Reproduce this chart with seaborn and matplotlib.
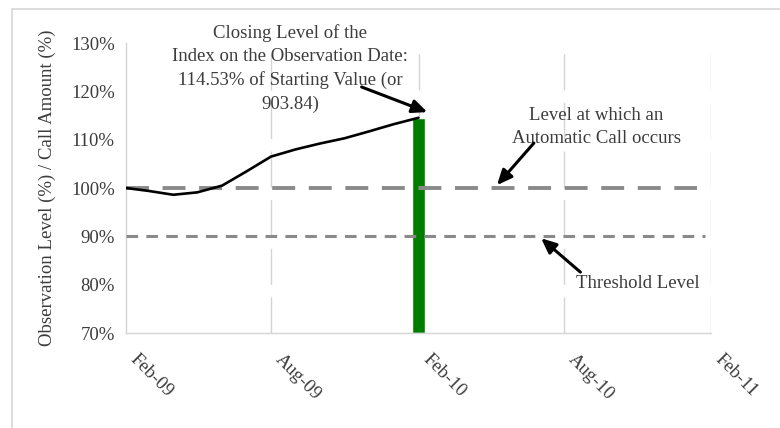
# Automatic call chart: index level vs call level and threshold
import pandas as pd
import matplotlib
matplotlib.use("Agg")
import matplotlib.pyplot as plt
import matplotlib.dates as mdates
from matplotlib.patches import Rectangle
from matplotlib.transforms import ScaledTranslation
import seaborn as sns

# ============ DATA ============
DATES = pd.date_range("2009-02-01", "2010-02-01", freq="MS")
INDEX_LEVEL = [100.0, 99.4, 98.6, 99.1, 100.5, 103.4, 106.5,
               108.0, 109.2, 110.3, 111.7, 113.2, 114.53]
OBS_DATE = pd.Timestamp("2010-02-01")
OBS_LEVEL = 114.53
CALL_LEVEL = 100
THRESHOLD_LEVEL = 90
TICK_DATES = pd.to_datetime(["2009-02-01", "2009-08-01", "2010-02-01",
                             "2010-08-01", "2011-02-01"])
TICK_LABELS = ["Feb-09", "Aug-09", "Feb-10", "Aug-10", "Feb-11"]
Y_TICKS = [70, 80, 90, 100, 110, 120, 130]
# ==============================

df = pd.DataFrame({"date": DATES, "level": INDEX_LEVEL})

sns.set_style("white")
plt.rcParams["font.family"] = ["Liberation Serif", "DejaVu Serif"]

TXT = "#3c3c3c"
GRID = "#d4d4d4"
FS = 13.5

fig = plt.figure(figsize=(7.8, 4.28), dpi=100)
ax = fig.add_axes([126 / 780, 1 - 333 / 428, 585 / 780, 290 / 428])

# vertical gridlines
for d in TICK_DATES[1:]:
    ax.axvline(d, color=GRID, lw=1.0, ls=(0, (26, 9)), zorder=0)

# observation bar
ax.bar(OBS_DATE, OBS_LEVEL - 70, bottom=70, width=16, color="#007d00", zorder=2)

# call level and threshold lines
ax.axhline(CALL_LEVEL, xmin=0, xmax=0.976, color="#8a8a8a", lw=2.8,
           ls=(0, (5.9, 3.5)), zorder=3)
ax.axhline(THRESHOLD_LEVEL, xmin=0, xmax=0.99, color="#8a8a8a", lw=2.2,
           ls=(0, (3.8, 2.7)), zorder=3)

# index line
sns.lineplot(data=df, x="date", y="level", ax=ax, color="black", lw=1.9,
             zorder=4)

ax.set_xlim(TICK_DATES[0], TICK_DATES[-1])
ax.set_ylim(70, 130)
ax.set_xticks(TICK_DATES)
ax.set_xticklabels(TICK_LABELS, rotation=-45, ha="left", va="top",
                   rotation_mode="anchor")
ax.set_yticks(Y_TICKS)
ax.set_yticklabels([f"{v}%" for v in Y_TICKS])
ax.set_xlabel("")
ax.set_ylabel("Observation Level (%) / Call Amount (%)", fontsize=FS, color=TXT)
ax.yaxis.set_label_coords(-0.12, 0.5)

for s in ["top", "right"]:
    ax.spines[s].set_visible(False)
for s in ["left", "bottom"]:
    ax.spines[s].set_color(GRID)
    ax.spines[s].set_linewidth(1.0)

ax.tick_params(axis="both", length=4, color=GRID, labelsize=FS, labelcolor=TXT)
ax.tick_params(axis="x", pad=9)
ax.tick_params(axis="y", pad=4)
for lab in ax.get_xticklabels():
    lab.set_transform(lab.get_transform() + ScaledTranslation(0.13, 0, fig.dpi_scale_trans))

# annotations
def dn(s):
    return mdates.date2num(pd.Timestamp(s))

arrow = dict(arrowstyle="-|>,head_length=0.9,head_width=0.4", color="black",
             lw=2.2, shrinkA=0, shrinkB=0)

ax.text(dn("2009-08-25"), 124.8,
        "Closing Level of the\nIndex on the Observation Date:\n"
        "114.53% of Starting Value (or\n903.84)",
        ha="center", va="center", fontsize=FS, color=TXT, linespacing=1.47,
        clip_on=False)
ax.annotate("", xy=(dn("2010-02-12"), 115.7), xytext=(dn("2009-11-22"), 120.9),
            arrowprops=arrow, annotation_clip=False)

ax.text(dn("2010-09-11"), 112.6, "Level at which an\nAutomatic Call occurs",
        ha="center", va="center", fontsize=FS, color=TXT, linespacing=1.47)
ax.annotate("", xy=(dn("2010-05-10"), 100.6), xytext=(dn("2010-06-25"), 109.3),
            arrowprops=arrow)

ax.text(dn("2010-08-17"), 80.3, "Threshold Level", ha="left", va="center",
        fontsize=FS, color=TXT)
ax.annotate("", xy=(dn("2010-07-04"), 89.6), xytext=(dn("2010-08-22"), 82.6),
            arrowprops=arrow)

# outer frame
fig.add_artist(Rectangle((12 / 780, -0.1), 2, 1 - 9 / 428 + 0.1,
                         transform=fig.transFigure, fill=False,
                         ec="#dadada", lw=1.3))

fig.savefig("out.png", dpi=100)
